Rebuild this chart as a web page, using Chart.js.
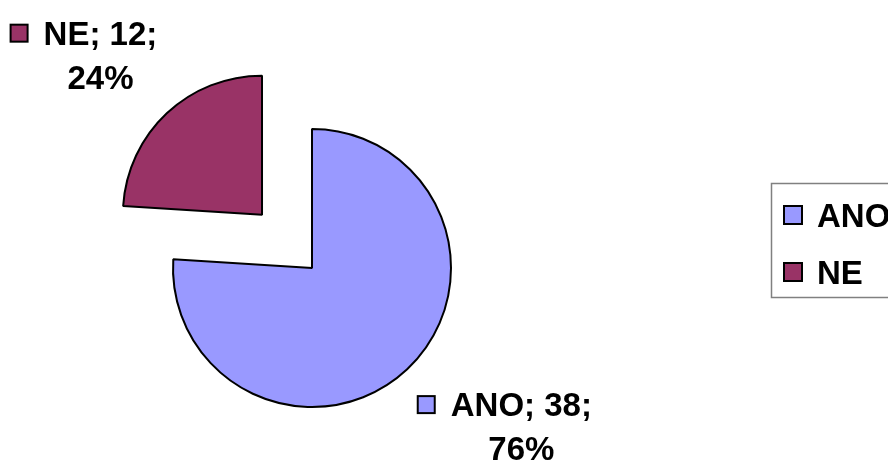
<!DOCTYPE html>
<html>
<head>
<meta charset="utf-8">
<script src="https://cdn.jsdelivr.net/npm/chart.js@4.4.1/dist/chart.umd.min.js"></script>
<style>
  html, body { margin: 0; padding: 0; background: #fff; overflow: hidden; }
  .chart-container { position: relative; width: 888px; height: 461px; }
</style>
</head>
<body>
<div class="chart-container"><canvas id="graficoPizza"></canvas></div>
<script>
const categorias = ['ANO', 'NE'];
const valores = [38, 12];
const cores = ['#9999FF', '#993366'];
const destaque = [0, 73]; // quanto cada fatia sai do centro, em px

const FONTE = 'bold 33px "Liberation Sans", Arial, sans-serif';

// rotulos "ANO; 38; 76%" do lado de fora de cada fatia
const rotulosPlugin = {
    id: 'rotulos',
    afterDatasetsDraw(chart) {
        const ctx = chart.ctx;
        const arcs = chart.getDatasetMeta(0).data;
        const total = valores.reduce((a, b) => a + b, 0);
        ctx.save();
        ctx.font = FONTE;
        ctx.textBaseline = 'alphabetic';
        arcs.forEach((arc, i) => {
            const meio = (arc.startAngle + arc.endAngle) / 2;
            const dx = Math.cos(meio), dy = Math.sin(meio);
            const desl = (arc.options.offset || 0) / 4;
            const cx = arc.x + dx * desl, cy = arc.y + dy * desl;
            // folga horizontal e vertical entre a borda e o rotulo
            const px = cx + dx * (arc.outerRadius + 14);
            const py = cy + dy * (arc.outerRadius + 34);

            const linha1 = categorias[i] + '; ' + valores[i] + ';';
            const linha2 = Math.round(valores[i] / total * 100) + '%';
            const larguraTexto = ctx.measureText(linha1).width;
            const largura = 34 + larguraTexto;
            const altura = 66;
            const esq = dx >= 0 ? px : px - largura;
            const topo = dy >= 0 ? py : py - altura;
            const base1 = topo + 22;

            ctx.fillStyle = cores[i];
            ctx.fillRect(esq + 1, base1 - 20, 17, 17);
            ctx.strokeStyle = '#000';
            ctx.lineWidth = 2;
            ctx.strokeRect(esq + 1, base1 - 20, 17, 17);

            ctx.fillStyle = '#000';
            ctx.textAlign = 'left';
            ctx.fillText(linha1, esq + 34, base1);
            ctx.textAlign = 'center';
            ctx.fillText(linha2, esq + 34 + larguraTexto / 2, base1 + 44);
        });
        ctx.restore();
    }
};

// legenda com moldura cinza, cortada na borda direita
const legendaPlugin = {
    id: 'legendaCaixa',
    afterDraw(chart) {
        const ctx = chart.ctx;
        const x0 = chart.width - 117, y0 = 183;
        ctx.save();
        ctx.strokeStyle = '#808080';
        ctx.lineWidth = 1.5;
        ctx.strokeRect(x0 + 0.5, y0 + 0.5, 300, 114);
        ctx.font = FONTE;
        ctx.textBaseline = 'alphabetic';
        ctx.textAlign = 'left';
        categorias.forEach((cat, i) => {
            const yc = y0 + 32 + i * 57;
            ctx.fillStyle = cores[i];
            ctx.fillRect(x0 + 13, yc - 9, 18, 18);
            ctx.strokeStyle = '#000';
            ctx.lineWidth = 2;
            ctx.strokeRect(x0 + 13, yc - 9, 18, 18);
            ctx.fillStyle = '#000';
            ctx.fillText(cat, x0 + 46, yc + 11.5);
        });
        ctx.restore();
    }
};

const ctx = document.getElementById('graficoPizza').getContext('2d');

new Chart(ctx, {
    type: 'pie',
    data: {
        labels: categorias,
        datasets: [{
            data: valores,
            backgroundColor: cores,
            borderColor: '#000',
            borderWidth: 2,
            radius: 139,
            offset: destaque.map(d => d * 4)
        }]
    },
    options: {
        responsive: true,
        maintainAspectRatio: false,
        animation: false,
        layout: {
            padding: { left: 0, right: 264, top: 75, bottom: 0 }
        },
        plugins: {
            legend: { display: false },
            tooltip: { enabled: false }
        }
    },
    plugins: [rotulosPlugin, legendaPlugin]
});
</script>
</body>
</html>
